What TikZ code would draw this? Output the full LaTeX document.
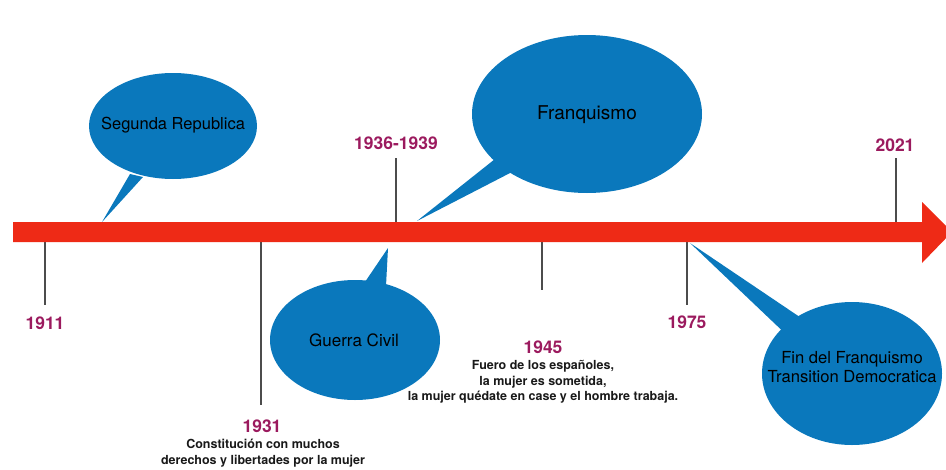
\documentclass[tikz,border=0pt]{standalone}
\usepackage{fontspec}
\setmainfont{TeX Gyre Heros}
\usetikzlibrary{shapes.geometric}
\definecolor{barred}{HTML}{EE2A16}
\definecolor{callblue}{HTML}{0A78BC}
\definecolor{yearcol}{HTML}{9B1A5E}
\begin{document}
\begin{tikzpicture}[x=1pt,y=-1pt,
  callout/.style={ellipse, fill=callblue, draw=none, inner sep=0pt},
  ctext/.style={text=black, inner sep=0pt, align=center},
  year/.style={text=yearcol, font=\bfseries\fontsize{17.5}{20}\selectfont, inner sep=0pt},
  note/.style={font=\bfseries\fontsize{12.5}{15.5}\selectfont, align=center, inner sep=0pt, text=black!90},
  tickline/.style={draw=black!70, line width=1.1pt}]
\useasboundingbox (0,0) rectangle (946,469);

% tick coordinates
\coordinate (a1911) at (45,242);   \coordinate (b1911) at (45,305);
\coordinate (a1931) at (261,242);  \coordinate (b1931) at (261,405);
\coordinate (a1936) at (396,222);  \coordinate (b1936) at (396,158);
\coordinate (a1945) at (542,242);  \coordinate (b1945) at (542,290);
\coordinate (a1975) at (687,242);  \coordinate (b1975) at (687,305);
\coordinate (a2021) at (896,222);  \coordinate (b2021) at (896,158);

\foreach \y in {1911,1931,1936,1945,1975,2021}
  \draw[tickline] (a\y) -- (b\y);

% timeline arrow
\fill[barred] (13,222) -- (922,222) -- (922,202) -- (952,232) -- (922,263)
  -- (922,242) -- (13,242) -- cycle;

% year labels
\node[year] (y1911) at (45,323) {1911};
\node[year] (y1931) at (262,426) {1931};
\node[year] (y1936) at (396,143) {1936-1939};
\node[year] (y1945) at (543,347) {1945};
\node[year] (y1975) at (687,322) {1975};
\node[year] (y2021) at (895,145) {2021};

% notes
\node[note] (n1931) at (263,453) {Constitución con muchos\\derechos y libertades por la mujer};
\node[note] (n1945) at (543,382) {Fuero de los españoles,\\la mujer es sometida,\\la mujer quédate en case y el hombre trabaja.};

% callouts
\coordinate (tsr) at (102,222);
\coordinate (tfr) at (417,221);
\coordinate (tgc) at (388,248);
\coordinate (tfin) at (690,243);

\node[callout, minimum width=168pt, minimum height=106pt] (sr) at (173,126) {};
\fill[callblue] ([shift={(-43,48)}]sr.center) -- (tsr) -- ([shift={(-30,51)}]sr.center) -- cycle;
\node[ctext, font=\fontsize{16.5}{18}\selectfont] (srt) at (173,125) {Segunda Republica};

\node[callout, minimum width=230pt, minimum height=158pt] (fr) at (587,114) {};
\fill[callblue] ([shift={(-92,45)}]fr.center) -- (tfr) -- ([shift={(-75,58)}]fr.center) -- cycle;
\node[ctext, font=\fontsize{19}{21}\selectfont] (frt) at (587,115) {Franquismo};

\node[callout, minimum width=170pt, minimum height=120pt] (gc) at (355,340) {};
\fill[callblue] ([shift={(10,-58)}]gc.center) -- (tgc) -- ([shift={(31,-54)}]gc.center) -- cycle;
\node[ctext, font=\fontsize{17}{19}\selectfont] (gct) at (354,340) {Guerra Civil};

\node[callout, minimum width=180pt, minimum height=143pt] (fin) at (852,373.5) {};
\fill[callblue] ([shift={(-70,-43)}]fin.center) -- (tfin) -- ([shift={(-53,-57)}]fin.center) -- cycle;
\node[ctext, font=\fontsize{16.6}{18.5}\selectfont] (fint) at (852,367) {Fin del Franquismo\\Transition Democratica};
\end{tikzpicture}
\end{document}
